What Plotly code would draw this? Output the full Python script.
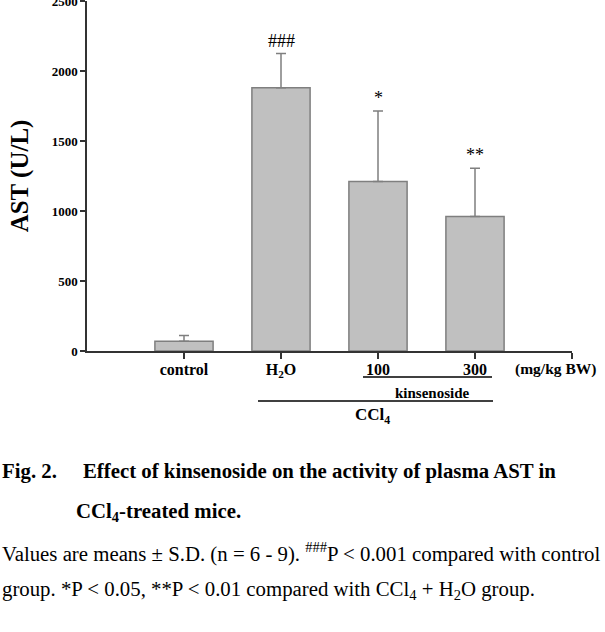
import plotly.graph_objects as go

categories = ["control", "H<sub>2</sub>O", "100", "300"]
positions = [1, 2, 3, 4]
values = [70, 1880, 1210, 960]
errors = [40, 245, 505, 345]
marks = ["", "###", "*", "**"]
y_ticks = [0, 500, 1000, 1500, 2000, 2500]

SERIF = "Liberation Serif, Times New Roman, serif"

fig = go.Figure()
fig.add_trace(go.Bar(
    x=positions, y=values, width=0.6,
    marker=dict(color="#c0c0c0", line=dict(color="#7f7f7f", width=1.5)),
    error_y=dict(type="data", array=errors, arrayminus=[0]*len(errors),
                 symmetric=False, color="#7f7f7f", thickness=1.5, width=5),
    showlegend=False,
))

for p, v, e, m in zip(positions, values, errors, marks):
    if m:
        fig.add_annotation(x=p, y=v + e, text=m, showarrow=False, yanchor="bottom",
                           xanchor="center", yshift=1,
                           font=dict(family=SERIF, size=18, color="black"))

fig.update_layout(
    width=605, height=632,
    margin=dict(l=87, r=33, t=1, b=281, autoexpand=False),
    plot_bgcolor="white", paper_bgcolor="white",
    xaxis=dict(range=[0, 5], tickvals=positions + [5], ticktext=categories + [""],
               automargin=False, ticklabelstandoff=-3,
               showline=True, linecolor="#333", linewidth=1.5, ticks="outside",
               ticklen=6, tickwidth=1.5, tickcolor="#333", showgrid=False, zeroline=False,
               tickfont=dict(family=SERIF, size=16, color="black", weight="bold")),
    yaxis=dict(range=[0, 2500], tickvals=y_ticks, showline=True, linecolor="#333",
               automargin=False,
               linewidth=1.5, ticks="outside", ticklen=5, tickwidth=1.5, tickcolor="#333",
               showgrid=False, zeroline=False, ticklabeloverflow="allow",
               tickfont=dict(family=SERIF, size=13, color="black", weight="bold"),
               title=dict(text="AST (U/L)", standoff=16,
                          font=dict(family=SERIF, size=25, color="black", weight="bold"))),
)

def ypaper(py):
    return (351 - py) / 350

def xpaper(px):
    return (px - 87) / 485

def note(px, py, text, size, bold=True, xanchor="center"):
    fig.add_annotation(xref="paper", yref="paper", x=xpaper(px), y=ypaper(py),
                       xanchor=xanchor, yanchor="middle", text=text, showarrow=False,
                       font=dict(family=SERIF, size=size, color="black",
                                 weight="bold" if bold else "normal"))

# under-axis labels
note(555, 369, "(mg/kg BW)", 15.5)
fig.add_shape(type="line", xref="paper", yref="paper", x0=xpaper(363), x1=xpaper(492),
              y0=ypaper(377), y1=ypaper(377), line=dict(color="black", width=1.5))
note(432, 393, "kinsenoside", 15)
fig.add_shape(type="line", xref="paper", yref="paper", x0=xpaper(258), x1=xpaper(493),
              y0=ypaper(401), y1=ypaper(401), line=dict(color="black", width=1.5))
note(372, 416, "CCl<sub>4</sub>", 17)

# caption
C = 20.8
note(0, 471, "Fig. 2.", C, xanchor="left")
note(81, 471, "Effect of kinsenoside on the activity of plasma AST in", C, xanchor="left")
note(74, 512, "CCl<sub>4</sub>-treated mice.", C, xanchor="left")
note(0, 552, "Values are means ± S.D. (n = 6 - 9). <sup>###</sup>P &lt; 0.001 compared with control",
     C, bold=False, xanchor="left")
note(0, 590, "group. *P &lt; 0.05, **P &lt; 0.01 compared with CCl<sub>4</sub> + H<sub>2</sub>O group.",
     C, bold=False, xanchor="left")

fig.write_html("out.html")
